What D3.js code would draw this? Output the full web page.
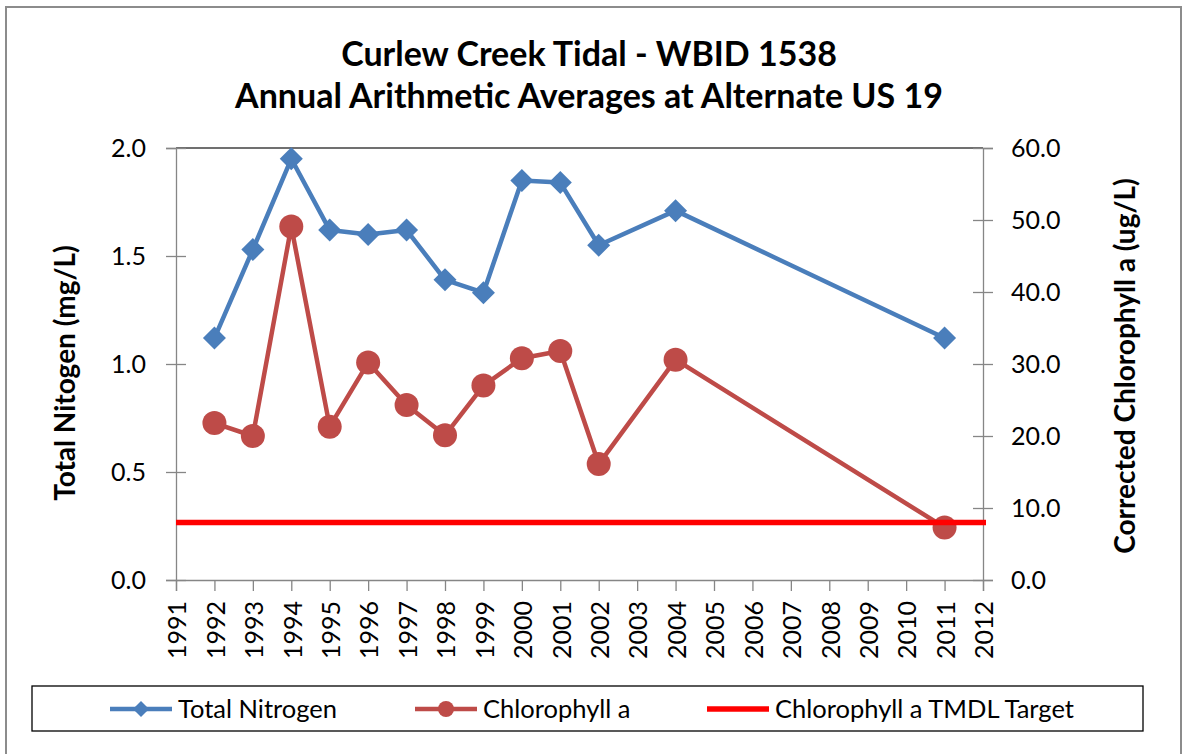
<!DOCTYPE html>
<html>
<head>
<meta charset="utf-8">
<script src="https://cdn.jsdelivr.net/npm/d3@7"></script>
<style>
  body { margin: 0; background: #fff; }
  svg text { font-family: Lato, "Open Sans", sans-serif; fill: #000; }
</style>
</head>
<body>
<svg id="chart" width="1183" height="754" viewBox="0 0 1183 754"></svg>
<script>
// chart values
const years = [1992, 1993, 1994, 1995, 1996, 1997, 1998, 1999, 2000, 2001, 2002, 2004, 2011];
const totalNitrogen = [1.12, 1.53, 1.95, 1.62, 1.60, 1.62, 1.39, 1.33, 1.85, 1.84, 1.55, 1.71, 1.12];
const chlorophyll = [21.8, 20.0, 49.1, 21.3, 30.2, 24.3, 20.1, 27.0, 30.8, 31.8, 16.1, 30.6, 7.3];
const tmdlTarget = 8.0;
const xTicks = d3.range(1991, 2013);
const leftTicks = [0, 0.5, 1.0, 1.5, 2.0];
const rightTicks = [0, 10, 20, 30, 40, 50, 60];
const titleLines = ["Curlew Creek Tidal - WBID 1538", "Annual Arithmetic Averages at Alternate US 19"];
const legendItems = ["Total Nitrogen", "Chlorophyll a", "Chlorophyll a TMDL Target"];

const svg = d3.select("#chart");
const blue = "#4A7EBB", red = "#BE4B48", bright = "#FF0000", axisGray = "#868686";

// outer chart border
svg.append("rect")
    .attr("x", 6).attr("y", 7).attr("width", 1175).attr("height", 760)
    .attr("fill", "#fff").attr("stroke", "#8c8c8c").attr("stroke-width", 2);

// scales
const x = d3.scaleLinear().domain([1991, 2012]).range([176, 983]);
const yLeft = d3.scaleLinear().domain([0, 2]).range([580, 148]);
const yRight = d3.scaleLinear().domain([0, 60]).range([580, 148]);

// title
svg.append("g").selectAll("text")
    .data(titleLines)
    .enter().append("text")
    .attr("x", 589)
    .attr("y", (d, i) => 66 + i * 42)
    .attr("text-anchor", "middle")
    .style("font-size", "34px")
    .style("font-weight", "bold")
    .text(d => d);

// top border line of the plot area
svg.append("line")
    .attr("x1", x(1991)).attr("x2", x(2012))
    .attr("y1", yLeft(2)).attr("y2", yLeft(2))
    .attr("stroke", "#404040").attr("stroke-width", 1.5);

// axes
const leftAxis = svg.append("g")
    .attr("transform", `translate(${x(1991)},0)`)
    .call(d3.axisLeft(yLeft).tickValues(leftTicks).tickFormat(d3.format(".1f")).tickSize(10).tickPadding(20));

const rightAxis = svg.append("g")
    .attr("transform", `translate(${x(2012)},0)`)
    .call(d3.axisRight(yRight).tickValues(rightTicks).tickFormat(d3.format(".1f")).tickSize(10).tickPadding(18));

const bottomAxis = svg.append("g")
    .attr("transform", `translate(0,${yLeft(0)})`)
    .call(d3.axisBottom(x).tickValues(xTicks).tickFormat(d3.format("d")).tickSize(11));

[leftAxis, rightAxis, bottomAxis].forEach(g => {
    g.select(".domain").attr("stroke", axisGray).attr("stroke-width", 1.3);
    g.selectAll(".tick line").attr("stroke", axisGray).attr("stroke-width", 1.3);
    g.selectAll(".tick text").style("font-size", "25px").attr("fill", "#000");
});
// ticks on the value axes cross the axis line
leftAxis.selectAll(".tick line").attr("x1", 10).attr("x2", -10);
rightAxis.selectAll(".tick line").attr("x1", -10).attr("x2", 10);
bottomAxis.selectAll(".tick text")
    .attr("transform", "rotate(-90)")
    .attr("text-anchor", "end")
    .attr("x", -21).attr("y", 1).attr("dy", "0.35em");

// axis titles
svg.append("text")
    .attr("transform", "translate(65,373) rotate(-90)")
    .attr("text-anchor", "middle").attr("dy", "0.35em")
    .style("font-size", "28px").style("font-weight", "bold")
    .text("Total Nitogen (mg/L)");
svg.append("text")
    .attr("transform", "translate(1125,366) rotate(-90)")
    .attr("text-anchor", "middle").attr("dy", "0.35em")
    .style("font-size", "28px").style("font-weight", "bold")
    .text("Corrected Chlorophyll a (ug/L)");

const tnData = years.map((yr, i) => ({ year: yr, value: totalNitrogen[i] }));
const chlData = years.map((yr, i) => ({ year: yr, value: chlorophyll[i] }));

// total nitrogen series
svg.append("path")
    .datum(tnData)
    .attr("fill", "none").attr("stroke", blue).attr("stroke-width", 4.5)
    .attr("stroke-linejoin", "round")
    .attr("d", d3.line().x(d => x(d.year)).y(d => yLeft(d.value)));
svg.append("g").selectAll("path")
    .data(tnData)
    .enter().append("path")
    .attr("d", d3.symbol(d3.symbolSquare, 265))
    .attr("transform", d => `translate(${x(d.year)},${yLeft(d.value)}) rotate(45)`)
    .attr("fill", blue);

// chlorophyll series
svg.append("path")
    .datum(chlData)
    .attr("fill", "none").attr("stroke", red).attr("stroke-width", 4.5)
    .attr("stroke-linejoin", "round")
    .attr("d", d3.line().x(d => x(d.year)).y(d => yRight(d.value)));
svg.append("g").selectAll("circle")
    .data(chlData)
    .enter().append("circle")
    .attr("cx", d => x(d.year))
    .attr("cy", d => yRight(d.value))
    .attr("r", 12)
    .attr("fill", red);

// TMDL target line (drawn over the series)
svg.append("line")
    .attr("x1", x(1991)).attr("x2", x(2012) + 3)
    .attr("y1", yRight(tmdlTarget)).attr("y2", yRight(tmdlTarget))
    .attr("stroke", bright).attr("stroke-width", 5.5);

// legend
svg.append("rect")
    .attr("x", 32).attr("y", 686).attr("width", 1111).attr("height", 45)
    .attr("fill", "#fff").attr("stroke", "#000").attr("stroke-width", 1.3);

const legendX = [110, 415, 707];
const legendColors = [blue, red, bright];
const legend = svg.append("g").selectAll("g")
    .data(legendItems)
    .enter().append("g")
    .attr("transform", (d, i) => `translate(${legendX[i]},709)`);
legend.append("line")
    .attr("x1", 0).attr("x2", 62)
    .attr("stroke", (d, i) => legendColors[i])
    .attr("stroke-width", (d, i) => i === 2 ? 5.5 : 4.5);
legend.filter((d, i) => i === 0).append("path")
    .attr("d", d3.symbol(d3.symbolSquare, 130))
    .attr("transform", "translate(31,0) rotate(45)")
    .attr("fill", blue);
legend.filter((d, i) => i === 1).append("circle")
    .attr("cx", 31).attr("r", 8)
    .attr("fill", red);
legend.append("text")
    .attr("x", 68).attr("dy", "0.35em")
    .style("font-size", "25.5px")
    .text(d => d);
</script>
</body>
</html>
